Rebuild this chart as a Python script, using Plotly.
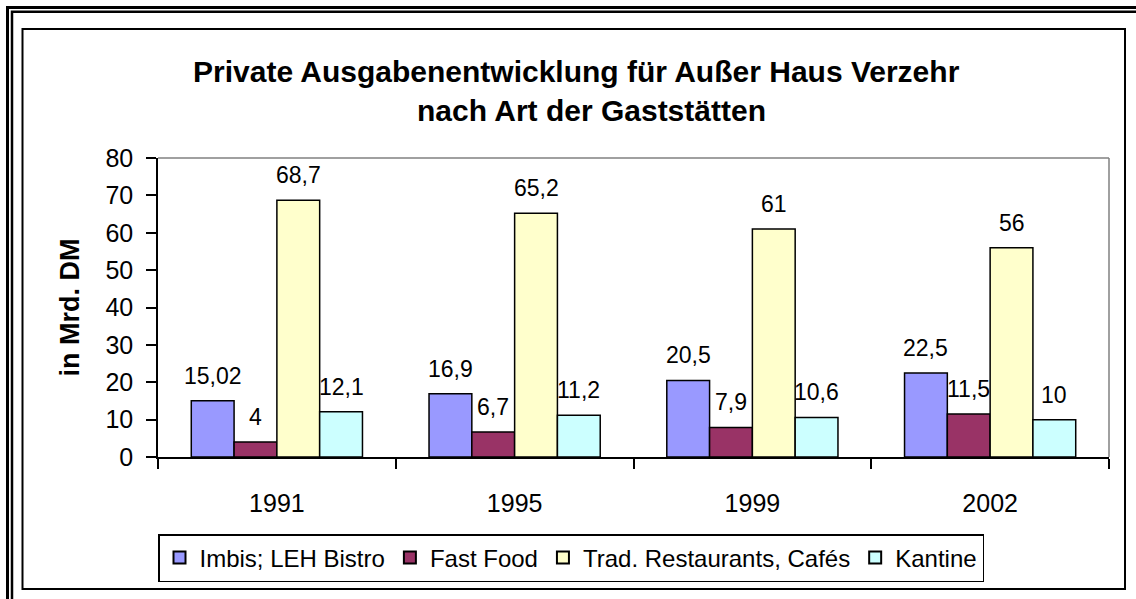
import plotly.graph_objects as go

years = ["1991", "1995", "1999", "2002"]
series_names = ["Imbis; LEH Bistro", "Fast Food", "Trad. Restaurants, Cafés", "Kantine"]
imbis = [15.02, 16.9, 20.5, 22.5]
fast_food = [4, 6.7, 7.9, 11.5]
trad = [68.7, 65.2, 61, 56]
kantine = [12.1, 11.2, 10.6, 10]
y_ticks = [0, 10, 20, 30, 40, 50, 60, 70, 80]
title_line1 = "Private Ausgabenentwicklung für Außer Haus Verzehr"
title_line2 = "nach Art der Gaststätten"
y_title = "in Mrd. DM"

series_values = [imbis, fast_food, trad, kantine]
colors = ["#9999FF", "#993366", "#FFFFCC", "#CCFFFF"]

W, H = 1136, 599
L, R, T, B = 158, 1109, 158, 457
FONT = "Liberation Sans, Arial, sans-serif"
BARGAP = 0.28


def px2x(px):
    return (px - L) / (R - L)


def py2y(py):
    return (B - py) / (B - T)


def fmt(v):
    return f"{v:g}".replace(".", ",")


fig = go.Figure()
for name, vals, col in zip(series_names, series_values, colors):
    fig.add_trace(go.Bar(
        x=years, y=vals, name=name,
        marker=dict(color=col, line=dict(color="black", width=1.5)),
    ))

annotations = []
n = len(series_values)
bw = (1 - BARGAP) / n
for si, vals in enumerate(series_values):
    off = -(1 - BARGAP) / 2 + bw * (si + 0.5)
    for ci, v in enumerate(vals):
        annotations.append(dict(
            x=ci + off, y=v, xref="x", yref="y", text=fmt(v), showarrow=False,
            yanchor="middle", xanchor="center", yshift=25,
            font=dict(family=FONT, size=23, color="black"),
        ))

annotations.append(dict(
    x=px2x(576), y=py2y(72), xref="paper", yref="paper", text="<b>%s</b>" % title_line1,
    showarrow=False, xanchor="center", yanchor="middle",
    font=dict(family=FONT, size=30, color="black"),
))
annotations.append(dict(
    x=px2x(591), y=py2y(110), xref="paper", yref="paper", text="<b>%s</b>" % title_line2,
    showarrow=False, xanchor="center", yanchor="middle",
    font=dict(family=FONT, size=30, color="black"),
))
annotations.append(dict(
    x=px2x(69), y=0.5, xref="paper", yref="paper", text="<b>%s</b>" % y_title,
    showarrow=False, xanchor="center", yanchor="middle", textangle=-90,
    font=dict(family=FONT, size=27, color="black"),
))

shapes = [
    # outer double border
    dict(type="rect", xref="paper", yref="paper", x0=px2x(7.5), y0=py2y(7.5),
         x1=px2x(1150), y1=py2y(620), line=dict(color="black", width=3)),
    dict(type="rect", xref="paper", yref="paper", x0=px2x(12), y0=py2y(11.8),
         x1=px2x(1145), y1=py2y(615), line=dict(color="black", width=2.5)),
    # chart area border
    dict(type="rect", xref="paper", yref="paper", x0=px2x(22.5), y0=py2y(29),
         x1=px2x(1125), y1=py2y(589), line=dict(color="black", width=2)),
    # plot area gray border (top, right)
    dict(type="line", xref="paper", yref="paper", x0=0, y0=1, x1=1, y1=1,
         line=dict(color="#808080", width=1.5)),
    dict(type="line", xref="paper", yref="paper", x0=1, y0=0, x1=1, y1=1,
         line=dict(color="#808080", width=1.5)),
]

fig.update_layout(
    width=W, height=H, autosize=False,
    margin=dict(l=L, r=W - R, t=T, b=H - B, pad=0),
    paper_bgcolor="white", plot_bgcolor="white",
    barmode="group", bargap=BARGAP, bargroupgap=0,
    font=dict(family=FONT, color="black"),
    showlegend=True,
    legend=dict(
        orientation="h", x=px2x(158), y=py2y(534), xanchor="left", yanchor="top",
        bordercolor="black", borderwidth=1.5, bgcolor="white",
        font=dict(family=FONT, size=24, color="black"),
        traceorder="normal", itemsizing="constant",
    ),
    annotations=annotations,
    shapes=shapes,
)
fig.update_xaxes(
    type="category", showline=True, linecolor="black", linewidth=1.5,
    ticks="outside", ticklen=10, tickwidth=1.5, tickcolor="black",
    tickson="boundaries", showgrid=False, zeroline=False,
    tickfont=dict(family=FONT, size=25, color="black"),
    ticklabelstandoff=23,
)
fig.update_yaxes(
    range=[0, 80], tickvals=y_ticks, showline=True, linecolor="black", linewidth=1.5,
    ticks="outside", ticklen=10, tickwidth=1.5, tickcolor="black",
    showgrid=False, zeroline=False,
    tickfont=dict(family=FONT, size=25, color="black"),
    ticklabelstandoff=8,
)

fig.write_html(
    "out.html",
    config={"displayModeBar": False},
    post_script="document.body.style.margin='0';document.body.style.overflow='hidden';",
)
